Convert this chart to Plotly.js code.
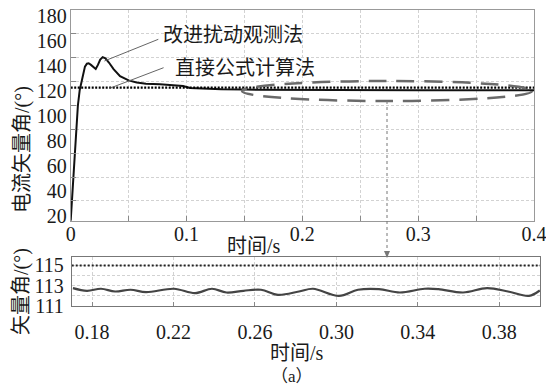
<!DOCTYPE html>
<html><head><meta charset="utf-8">
<script src="https://cdn.plot.ly/plotly-3.0.1.min.js"></script>
<style>
html,body{margin:0;padding:0;background:#fff}
#chart .xtick text, #chart .ytick text, #chart .x2tick text, #chart .y2tick text, #chart .y3tick text {
  font-family: 'Liberation Serif', 'DejaVu Serif', serif !important;
}
#chart .annotation-text.serifmix, #chart .annotation text {
  font-family: 'Liberation Serif', 'Noto Sans CJK SC', serif !important;
}
</style>
</head><body><div id="chart" style="width:546px;height:387px"></div>
<script>
// ---- data ----
const topTime  = [0, 0.001, 0.0025, 0.0046, 0.0062, 0.0078, 0.0092, 0.0108, 0.0123, 0.014, 0.0155, 0.0175, 0.02, 0.0216, 0.0235, 0.0255, 0.0276, 0.03, 0.033, 0.037, 0.0426, 0.05, 0.057, 0.065, 0.077, 0.089, 0.097, 0.103, 0.115, 0.13, 0.15, 0.2, 0.25, 0.3, 0.35, 0.4];
const topAngle = [3.5, 20, 45, 80, 100, 113, 120, 127.5, 132.6, 135, 135.4, 134, 131.5, 130.6, 134, 138.5, 140.5, 139.5, 136, 130.5, 124.5, 121, 119.3, 118.3, 117.7, 116.9, 116.3, 114.6, 114, 113.6, 113.3, 113, 112.9, 112.8, 112.8, 112.8];
const refTime  = [0, 0.4];
const refAngle = [115, 115];
const zoomTime  = [0.1706, 0.1775, 0.1844, 0.1913, 0.1989, 0.2065, 0.2202, 0.2306, 0.2389, 0.246, 0.2544, 0.263, 0.2713, 0.2816, 0.2885, 0.3013, 0.3106, 0.3209, 0.3312, 0.3433, 0.3501, 0.3622, 0.374, 0.3843, 0.3946, 0.3999];
const zoomAngle = [112.76, 112.5, 112.7, 112.43, 112.6, 112.37, 112.7, 112.27, 112.7, 112.33, 112.5, 112.6, 112.1, 112.43, 112.7, 112.0, 112.6, 112.66, 112.33, 112.7, 112.66, 112.33, 112.76, 112.43, 112.0, 112.53];
const zoomRefTime  = [0.17, 0.4];
const zoomRefAngle = [115, 115];

const topXTicks  = [0, 0.05, 0.1, 0.15, 0.2, 0.25, 0.3, 0.35, 0.4];
const topXLabels = ['0', '', '0.1', '', '0.2', '', '0.3', '', '0.4'];
const topYGrid   = [20, 40, 60, 80, 100, 120, 140, 160];
const topYLabels = [20, 40, 60, 80, 100, 120, 140, 160, 180];
const lowXTicks  = [0.18, 0.22, 0.26, 0.30, 0.34, 0.38];
const lowXLabels = ['0.18', '0.22', '0.26', '0.30', '0.34', '0.38'];
const lowYTicks  = [111, 112, 113, 114, 115];
const lowYLabels = ['111', '', '113', '', '115'];

// ---- layout helpers ----
const W = 546, H = 387;
const px = x => x / W;
const py = y => 1 - y / H;
const SERIF = 'Liberation Serif, DejaVu Serif, serif';
const MIXED = 'Liberation Serif, Noto Sans CJK SC, serif';
const CJK = 'Noto Sans CJK SC, sans-serif';
const tickFont = {family: SERIF, size: 20, color: '#1a1a1a'};

const traces = [
  {x: topTime, y: topAngle, xaxis: 'x', yaxis: 'y', mode: 'lines', line: {color: '#111', width: 2}, hoverinfo: 'skip'},
  {x: refTime, y: refAngle, xaxis: 'x', yaxis: 'y', mode: 'lines', line: {color: '#000', width: 2.2, dash: '2px,1.5px'}, hoverinfo: 'skip'},
  {x: [null], y: [null], xaxis: 'x', yaxis: 'y3', mode: 'lines', hoverinfo: 'skip'},
  {x: zoomRefTime, y: zoomRefAngle, xaxis: 'x2', yaxis: 'y2', mode: 'lines', line: {color: '#222', width: 2, dash: '2px,2px'}, hoverinfo: 'skip'},
  {x: zoomTime, y: zoomAngle, xaxis: 'x2', yaxis: 'y2', mode: 'lines', line: {color: '#444', width: 2.2, shape: 'spline', smoothing: 1}, hoverinfo: 'skip'}
];

const gridStyle = {showgrid: true, gridcolor: '#d2d2d2', griddash: '3px,2px', gridwidth: 1, zeroline: false};

function note(text, x, y, opts) {
  return Object.assign({text: text, x: px(x), y: py(y), xref: 'paper', yref: 'paper', showarrow: false,
    xanchor: 'center', yanchor: 'middle', font: {family: MIXED, size: 20, color: '#1a1a1a'}}, opts || {});
}

const layout = {
  width: W, height: H,
  margin: {l: 0, r: 0, t: 0, b: 0},
  paper_bgcolor: '#fff', plot_bgcolor: '#fff',
  showlegend: false,
  font: {family: SERIF, color: '#1a1a1a'},
  xaxis: Object.assign({domain: [px(70.7), px(534)], range: [0, 0.4], tickvals: topXTicks, ticktext: topXLabels,
    ticks: 'inside', ticklen: 5, tickcolor: '#888', showline: true, mirror: true, linecolor: '#999', linewidth: 1,
    tickfont: tickFont, anchor: 'y', ticklabelstandoff: -5, ticklabeloverflow: 'allow'}, gridStyle),
  yaxis: Object.assign({domain: [py(221), py(10)], range: [3.2, 180], tickvals: topYGrid, showticklabels: false,
    ticks: 'inside', ticklen: 5, tickcolor: '#888', showline: true, mirror: true, linecolor: '#999', linewidth: 1, anchor: 'x'}, gridStyle),
  yaxis3: {overlaying: 'y', anchor: 'x', side: 'left', range: [16, 184.6], tickvals: topYLabels, showgrid: false, zeroline: false,
    showline: false, ticks: '', tickfont: tickFont, ticklabelstandoff: 3},
  xaxis2: Object.assign({domain: [px(71.7), px(540)], range: [0.17, 0.4], tickvals: lowXTicks, ticktext: lowXLabels,
    ticks: 'inside', ticklen: 4, tickcolor: '#888', showline: true, mirror: true, linecolor: '#777', linewidth: 1,
    tickfont: tickFont, anchor: 'y2', ticklabelstandoff: 8}, gridStyle),
  yaxis2: Object.assign({domain: [py(306), py(257)], range: [111, 115.83], tickvals: lowYTicks, ticktext: lowYLabels,
    ticks: '', showline: true, mirror: true, linecolor: '#777', linewidth: 1, tickfont: tickFont, anchor: 'x2', ticklabelstandoff: 3}, gridStyle),
  annotations: [
    note('改进扰动观测法', 233, 33.3, {font: {family: CJK, size: 20, color: '#1a1a1a'}}),
    note('直接公式计算法', 245, 66.7, {font: {family: CJK, size: 20, color: '#1a1a1a'}}),
    note('时间/s', 254, 246),
    note('电流矢量角/(°)', 22, 150, {textangle: -90}),
    note('矢量角/(°)', 21, 292, {textangle: -90}),
    note('时间/s', 297, 353),
    note('（a）', 292, 376, {font: {family: MIXED, size: 17, color: '#1a1a1a'}})
  ],
  shapes: [
    {type: 'line', xref: 'paper', yref: 'paper', x0: px(158.3), y0: py(39.3), x1: px(104.4), y1: py(61), line: {color: '#666', width: 1}},
    {type: 'line', xref: 'paper', yref: 'paper', x0: px(163.6), y0: py(67.7), x1: px(109.6), y1: py(88.3), line: {color: '#666', width: 1}},
    {type: 'circle', xref: 'paper', yref: 'paper', x0: px(242), x1: px(532), y0: py(101), y1: py(81), line: {color: '#6a6a6a', width: 2.5, dash: '18px,10px'}},
    {type: 'line', xref: 'paper', yref: 'paper', x0: px(387), y0: py(101), x1: px(387), y1: py(251), line: {color: '#777', width: 1, dash: 'dot'}},
    {type: 'path', xref: 'paper', yref: 'paper', path: `M ${px(384)} ${py(251)} L ${px(390)} ${py(251)} L ${px(387)} ${py(258)} Z`, fillcolor: '#777', line: {width: 0}}
  ]
};

Plotly.newPlot('chart', traces, layout, {staticPlot: true, displayModeBar: false});
</script>
</body></html>
